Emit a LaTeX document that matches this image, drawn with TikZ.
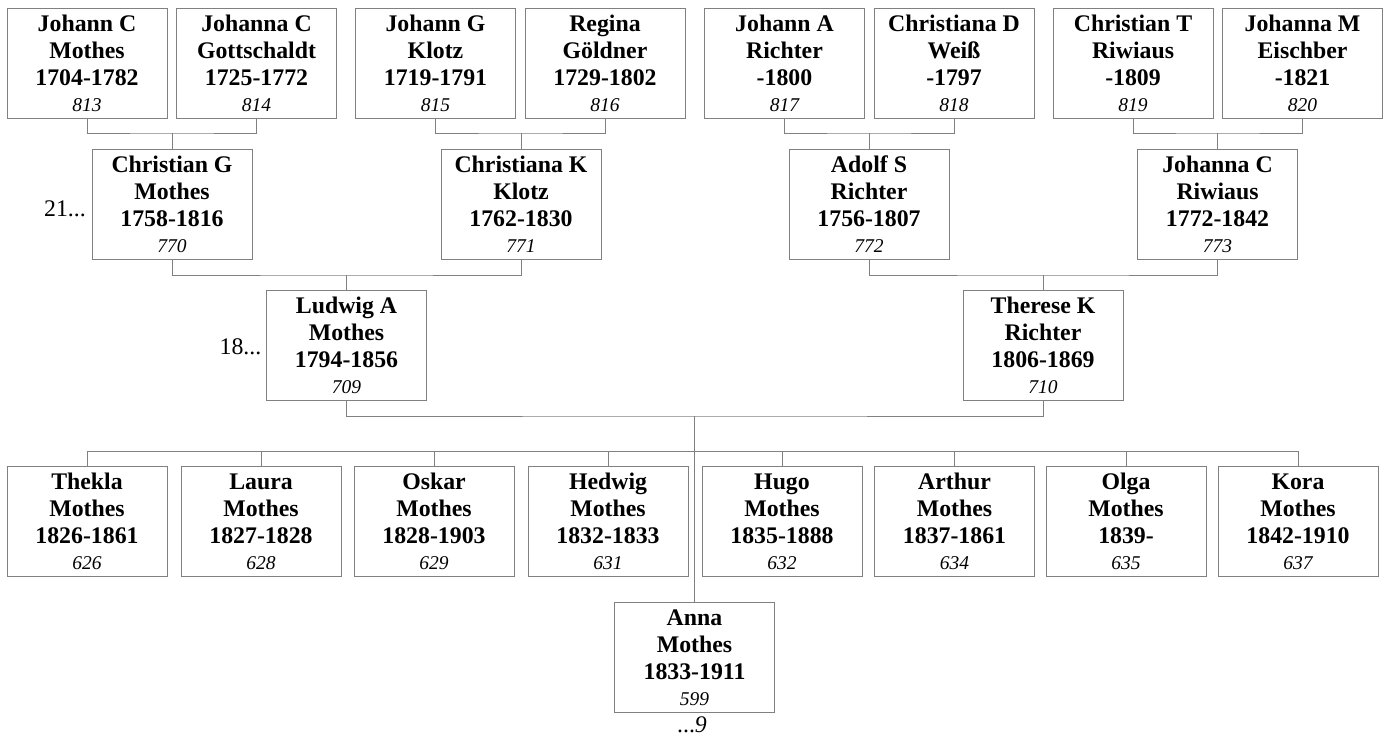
\documentclass[tikz,border=0pt]{standalone}
\usepackage{fontspec}
\setmainfont{Liberation Serif}
\usetikzlibrary{shapes,arrows}
\definecolor{boxgray}{RGB}{128,128,128}
\newcommand{\idnum}[1]{{\fontsize{19.5}{22}\selectfont\mdseries\itshape #1}}

\begin{document}
\begin{tikzpicture}[x=1pt, y=-1pt,
  person/.style={shape=rectangle, draw=boxgray, line width=1pt, minimum width=160pt,
    minimum height=110pt, inner sep=0pt, align=center,
    font=\fontsize{23.8}{27}\selectfont\bfseries},
  line/.style={draw=boxgray, line width=1pt}]
\useasboundingbox (0,0) rectangle (1388,737);

% great-grandparents
\node (a) at (87,63) [person]{\vphantom{h}Johann C\\Mothes\\1704-1782\\[-1pt]\idnum{813}};
\node (b) at (256.5,63) [person]{\vphantom{h}Johanna C\\Gottschaldt\\1725-1772\\[-1pt]\idnum{814}};
\node (c) at (435.5,63) [person]{\vphantom{h}Johann G\\Klotz\\1719-1791\\[-1pt]\idnum{815}};
\node (d) at (605,63) [person]{\vphantom{h}Regina\\Göldner\\1729-1802\\[-1pt]\idnum{816}};
\node (e) at (784.5,63) [person]{\vphantom{h}Johann A\\Richter\\-1800\\[-1pt]\idnum{817}};
\node (f) at (954,63) [person]{\vphantom{h}Christiana D\\Weiß\\-1797\\[-1pt]\idnum{818}};
\node (g) at (1133,63) [person]{\vphantom{h}Christian T\\Riwiaus\\-1809\\[-1pt]\idnum{819}};
\node (h) at (1302.5,63) [person]{\vphantom{h}Johanna M\\Eischber\\-1821\\[-1pt]\idnum{820}};

% grandparents
\node (i) at (172,204.5) [person]{\vphantom{h}Christian G\\Mothes\\1758-1816\\[-1pt]\idnum{770}};
\node (j) at (521,204.5) [person]{\vphantom{h}Christiana K\\Klotz\\1762-1830\\[-1pt]\idnum{771}};
\node (k) at (869,204.5) [person]{\vphantom{h}Adolf S\\Richter\\1756-1807\\[-1pt]\idnum{772}};
\node (l) at (1217.5,204.5) [person]{\vphantom{h}Johanna C\\Riwiaus\\1772-1842\\[-1pt]\idnum{773}};
\node (ri) at (65,209) {\fontsize{23.8}{27}\selectfont 21...};

% parents
\node (m) at (346.5,345.5) [person]{\vphantom{h}Ludwig A\\Mothes\\1794-1856\\[-1pt]\idnum{709}};
\node (n) at (1043,345.5) [person]{\vphantom{h}Therese K\\Richter\\1806-1869\\[-1pt]\idnum{710}};
\node (rm) at (240.5,347) {\fontsize{23.8}{27}\selectfont 18...};

% children
\node (o) at (87,521.5) [person]{\vphantom{h}Thekla\\Mothes\\1826-1861\\[-1pt]\idnum{626}};
\node (p) at (261,521.5) [person]{\vphantom{h}Laura\\Mothes\\1827-1828\\[-1pt]\idnum{628}};
\node (q) at (434,521.5) [person]{\vphantom{h}Oskar\\Mothes\\1828-1903\\[-1pt]\idnum{629}};
\node (r) at (608,521.5) [person]{\vphantom{h}Hedwig\\Mothes\\1832-1833\\[-1pt]\idnum{631}};
\node (s) at (782,521.5) [person]{\vphantom{h}Hugo\\Mothes\\1835-1888\\[-1pt]\idnum{632}};
\node (t) at (954.5,521.5) [person]{\vphantom{h}Arthur\\Mothes\\1837-1861\\[-1pt]\idnum{634}};
\node (u) at (1126,521.5) [person]{\vphantom{h}Olga\\Mothes\\1839-\\[-1pt]\idnum{635}};
\node (v) at (1298,521.5) [person]{\vphantom{h}Kora\\Mothes\\1842-1910\\[-1pt]\idnum{637}};
\node (w) at (694.5,657.5) [person]{\vphantom{h}Anna\\Mothes\\1833-1911\\[-1pt]\idnum{599}};
\node (rw) at (692,725) {\fontsize{23.8}{27}\selectfont ...\textit{9}};

% couples
\coordinate (ab) at (172,133);
\coordinate (cd) at (521,133);
\coordinate (ef) at (869,133);
\coordinate (gh) at (1217.5,133);
\coordinate (ij) at (346.5,275);
\coordinate (kl) at (1043,275);
\coordinate (mn) at (694.5,416);
\coordinate (kids) at (694.5,451);

\draw [line] (a.south) |- (ab) -| (b.south);
\draw [line] (c.south) |- (cd) -| (d.south);
\draw [line] (e.south) |- (ef) -| (f.south);
\draw [line] (g.south) |- (gh) -| (h.south);
\draw [line] (ab) -- (i.north);
\draw [line] (cd) -- (j.north);
\draw [line] (ef) -- (k.north);
\draw [line] (gh) -- (l.north);
\draw [line] (i.south) |- (ij) -| (j.south);
\draw [line] (k.south) |- (kl) -| (l.south);
\draw [line] (ij) -- (m.north);
\draw [line] (kl) -- (n.north);
\draw [line] (m.south) |- (mn) -| (n.south);
\draw [line] (mn) -- (kids);
\foreach \x in {o,p,q,r,s,t,u,v}
  \draw [line] (kids) -| (\x.north);
\draw [line] (kids) -- (w.north);
\end{tikzpicture}
\end{document}
